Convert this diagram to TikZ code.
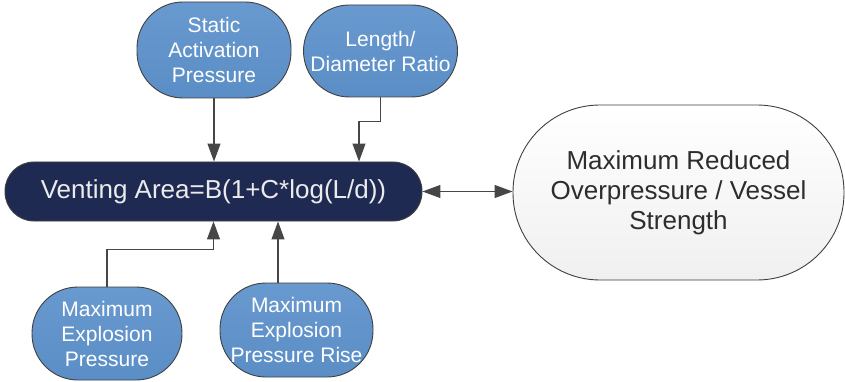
\documentclass[tikz,border=0pt]{standalone}
\usepackage{fontspec}
\setmainfont{Liberation Sans}
\usetikzlibrary{arrows.meta,calc}

\definecolor{inblue}{RGB}{91,142,198}
\definecolor{inblueTop}{RGB}{104,153,207}
\definecolor{navy}{RGB}{31,42,82}
\definecolor{edgegray}{RGB}{64,64,64}
\definecolor{linegray}{RGB}{70,70,70}
\definecolor{txtgray}{RGB}{45,45,45}

\tikzset{
  inputbox/.style={draw=edgegray, line width=0.9pt, top color=inblueTop, bottom color=inblue,
    rounded corners=46pt, minimum width=154pt, minimum height=93pt,
    align=center, text=white, inner sep=0pt,
    font=\fontsize{21}{25}\selectfont},
  formulabox/.style={draw=edgegray, line width=0.9pt, fill=navy,
    rounded corners=29pt, minimum width=417pt, minimum height=59pt,
    text=white!92!black, inner sep=0pt, font=\fontsize{26}{30}\selectfont},
  resultbox/.style={draw=edgegray, line width=0.9pt, top color=white, bottom color=black!6,
    rounded corners=87pt, minimum width=331pt, minimum height=175pt,
    align=center, text=txtgray, inner sep=0pt,
    font=\fontsize{26}{30}\selectfont},
  tip/.tip={Triangle[length=18pt,width=13pt]},
  arr/.style={draw=linegray, line width=1.1pt, -tip},
  dblarr/.style={draw=linegray, line width=1.1pt, tip-tip},
}

\begin{document}
\begin{tikzpicture}[x=1pt,y=-1pt]
  \useasboundingbox (0,0) rectangle (845,382);

  % input parameters
  \node[inputbox, minimum height=96pt] (sap) at (214,50) {Static\\Activation\\Pressure};
  \node[inputbox, minimum height=92pt] (ldr) at (380.5,51) {Length/\\Diameter Ratio};
  \node[inputbox, minimum width=150pt] (mep) at (107,333.5) {Maximum\\Explosion\\Pressure};
  \node[inputbox, minimum width=153pt, minimum height=94pt] (mepr) at (296.5,330) {Maximum\\Explosion\\Pressure Rise};

  % venting equation
  \node[formulabox] (vent) at (213.5,191.5) {Venting Area=B(1+C*log(L/d))};

  % result
  \node[resultbox] (res) at (678.5,192.5) {Maximum Reduced\\Overpressure / Vessel\\Strength};

  % entry points on the equation box
  \coordinate (vLdr) at ([xshift=145.5pt]vent.north);
  \coordinate (vRise) at ([xshift=64.5pt]vent.south);

  % connectors
  \draw[arr] (sap.south) -- (sap.south |- vent.north);
  \draw[arr] (ldr.south) -- ++(0,24) -| (vLdr);
  \draw[arr] (mep.north) -- ++(0,-37) -| (vent.south);
  \draw[arr] (vRise |- mepr.north) -- (vRise);
  \draw[dblarr] (vent.east) -- (vent.east -| res.west);
\end{tikzpicture}
\end{document}
